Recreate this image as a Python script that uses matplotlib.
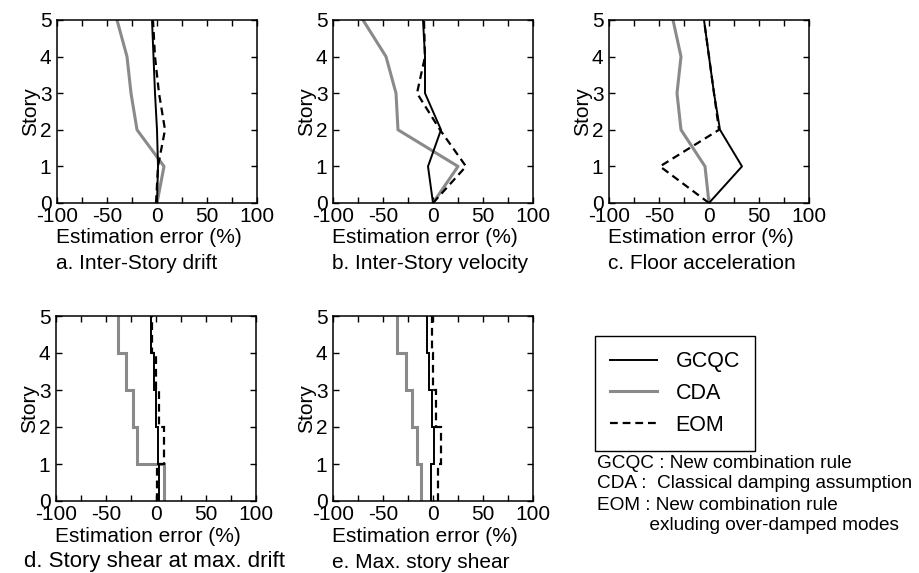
import numpy as np
import matplotlib.pyplot as plt
from matplotlib.ticker import MultipleLocator
from matplotlib.lines import Line2D

plt.rcParams['font.family'] = ['Liberation Sans', 'DejaVu Sans']
plt.rcParams['axes.unicode_minus'] = False

# story levels (nodes) for the profile panels
stories = [0, 1, 2, 3, 4, 5]

# a. Inter-Story drift
a_gcqc = [0, 1, 0, -2, -3.5, -5]
a_cda = [0, 7, -20, -26, -30, -40]
a_eom = [-1, 1, 8, 2, -2, -4]

# b. Inter-Story velocity
b_gcqc = [0, -5, 8, -8, -8, -10]
b_cda = [0, 25, -35, -37, -47, -70]
b_eom = [0, 33, 7, -16, -8, -9]

# c. Floor acceleration
c_gcqc = [0, 33, 11, 5, 0, -5]
c_cda = [0, -4, -28, -32, -28, -36]
c_eom = [0, -49, 10, 5, 0, -5]

# story edges for the step panels (one value per story 1..5)
edges = [0, 1, 2, 3, 4, 5]

# d. Story shear at max. drift
d_gcqc = [2.5, 1.5, -0.5, -2.5, -5.5]
d_cda = [8, -19, -23, -30, -38]
d_eom = [1, 7.5, 3, -0.5, -4]

# e. Max. story shear
e_gcqc = [-2.5, 0.5, -1.5, -4, -6.5]
e_cda = [-12.5, -16.5, -21.5, -27.5, -36.5]
e_eom = [4.5, 7.5, 2.5, 0, -1.5]

captions = ['a. Inter-Story drift', 'b. Inter-Story velocity', 'c. Floor acceleration',
            'd. Story shear at max. drift', 'e. Max. story shear']

notes = ['GCQC : New combination rule',
         'CDA :  Classical damping assumption',
         'EOM : New combination rule',
         '          exluding over-damped modes']

GRAY = '#8a8a8a'
FS = 15
sty = {
    'GCQC': dict(color='black', lw=1.4, ls='-', zorder=3),
    'CDA': dict(color=GRAY, lw=2.2, ls='-', zorder=2),
    'EOM': dict(color='black', lw=1.6, ls=(0, (3.5, 2.2)), zorder=4),
}

fig = plt.figure(figsize=(9.19, 5.73), dpi=100)

W, H = 200 / 919, 183 / 573
positions = [
    (57 / 919, 1 - 203 / 573, W, H),
    (333 / 919, 1 - 203 / 573, W, H),
    (609 / 919, 1 - 203 / 573, W, H),
    (56 / 919, 1 - 501 / 573, W, 185 / 573),
    (333 / 919, 1 - 501 / 573, W, 185 / 573),
]

profiles = [(a_gcqc, a_cda, a_eom), (b_gcqc, b_cda, b_eom), (c_gcqc, c_cda, c_eom)]
steps = [(d_gcqc, d_cda, d_eom), (e_gcqc, e_cda, e_eom)]

axes = []
for i, pos in enumerate(positions):
    ax = fig.add_axes(pos)
    axes.append(ax)
    if i < 3:
        g, c, e = profiles[i]
        ax.plot(c, stories, **sty['CDA'])
        ax.plot(g, stories, **sty['GCQC'])
        ax.plot(e, stories, **sty['EOM'])
    else:
        g, c, e = steps[i - 3]
        ax.stairs(c, edges, orientation='horizontal', baseline=None, **sty['CDA'])
        ax.stairs(g, edges, orientation='horizontal', baseline=None, **sty['GCQC'])
        ax.stairs(e, edges, orientation='horizontal', baseline=None, **sty['EOM'])

    ax.set_xlim(-100, 100)
    ax.set_ylim(0, 5)
    ax.xaxis.set_major_locator(MultipleLocator(50))
    ax.xaxis.set_minor_locator(MultipleLocator(25))
    ax.yaxis.set_major_locator(MultipleLocator(1))
    ax.tick_params(which='both', direction='in', top=True, right=True,
                   length=4, width=1, labelsize=FS)
    ax.tick_params(axis='x', pad=3)
    ax.tick_params(axis='y', pad=4)
    for sp in ax.spines.values():
        sp.set_linewidth(1.1)
    ax.set_ylabel('Story', fontsize=FS, labelpad=0)

    x0, y0, w, h = pos
    fig.text(x0 - 1 / 919, y0 - 35 / 573, 'Estimation error (%)', fontsize=FS, va='center', ha='left')
    if i == 3:
        # this caption is set wider in the original
        fig.text(x0 + w / 2 - 2 / 919, y0 - 61 / 573, captions[i], fontsize=FS + 1,
                 va='center', ha='center')
    else:
        fig.text(x0 - 1 / 919, y0 - 61 / 573, captions[i], fontsize=FS, va='center', ha='left')

handles = [Line2D([], [], **{k: v for k, v in sty[n].items() if k != 'zorder'})
           for n in ['GCQC', 'CDA', 'EOM']]
leg = fig.legend(handles, ['GCQC', 'CDA', 'EOM'], loc='upper left',
                 bbox_to_anchor=(595 / 919, 1 - 336 / 573), fontsize=FS + 0.5,
                 frameon=True, fancybox=False, edgecolor='black', framealpha=1,
                 handlelength=2.2, handletextpad=0.85, borderpad=0.7,
                 labelspacing=0.5, borderaxespad=0)
leg.get_frame().set_linewidth(1.0)

for k, line in enumerate(notes):
    fig.text(597 / 919, 1 - (463 + k * 21) / 573, line, fontsize=FS - 1.3, va='center', ha='left')

fig.savefig('out.png', dpi=100)
